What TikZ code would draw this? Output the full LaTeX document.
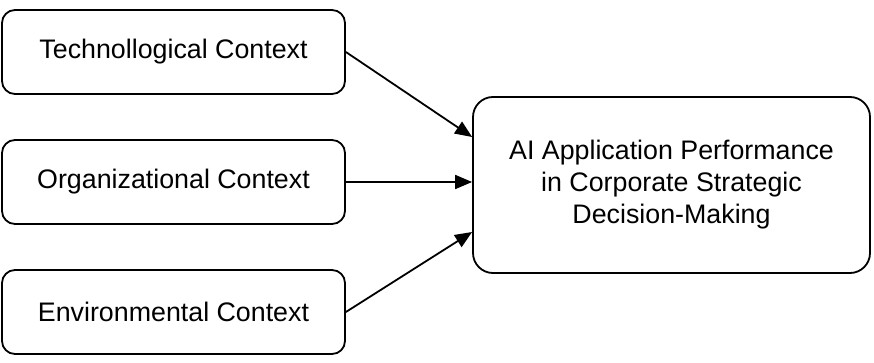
\documentclass[tikz,border=0pt]{standalone}
\usepackage{fontspec}
\setmainfont{Liberation Sans}
\usetikzlibrary{arrows.meta,calc}
\begin{document}
\begin{tikzpicture}[x=1pt,y=-1pt,
  ctxbox/.style={draw=black, line width=1.8pt, rounded corners=13pt, minimum width=343pt, minimum height=84pt, inner sep=0pt, font=\fontsize{26.8}{32}\selectfont},
  mainbox/.style={draw=black, line width=1.8pt, rounded corners=20pt, minimum width=397pt, minimum height=176pt, inner sep=0pt, align=center, font=\fontsize{26.8}{32}\selectfont},
  conn/.style={line width=1.8pt, -{Triangle[length=17pt,width=14pt]}}]
\useasboundingbox (0,0) rectangle (874,363);
\node[ctxbox] (tech) at (173.5,52) {\raisebox{-2pt}{Technollogical Context}};
\node[ctxbox] (org) at (173.5,182) {\raisebox{-2pt}{Organizational Context}};
\node[ctxbox] (env) at (173.5,312) {\raisebox{-2pt}{Environmental Context}};
\node[mainbox] (ai) at (671.5,185) {AI Application Performance\\in Corporate Strategic\\Decision-Making};
\coordinate (inA) at ($(ai.west)+(0,-48)$);
\coordinate (inC) at ($(ai.west)+(0,47)$);
\draw[conn] (tech.east) -- (inA);
\draw[conn] (org.east) -- (org.east -| ai.west);
\draw[conn] (env.east) -- (inC);
\end{tikzpicture}
\end{document}
